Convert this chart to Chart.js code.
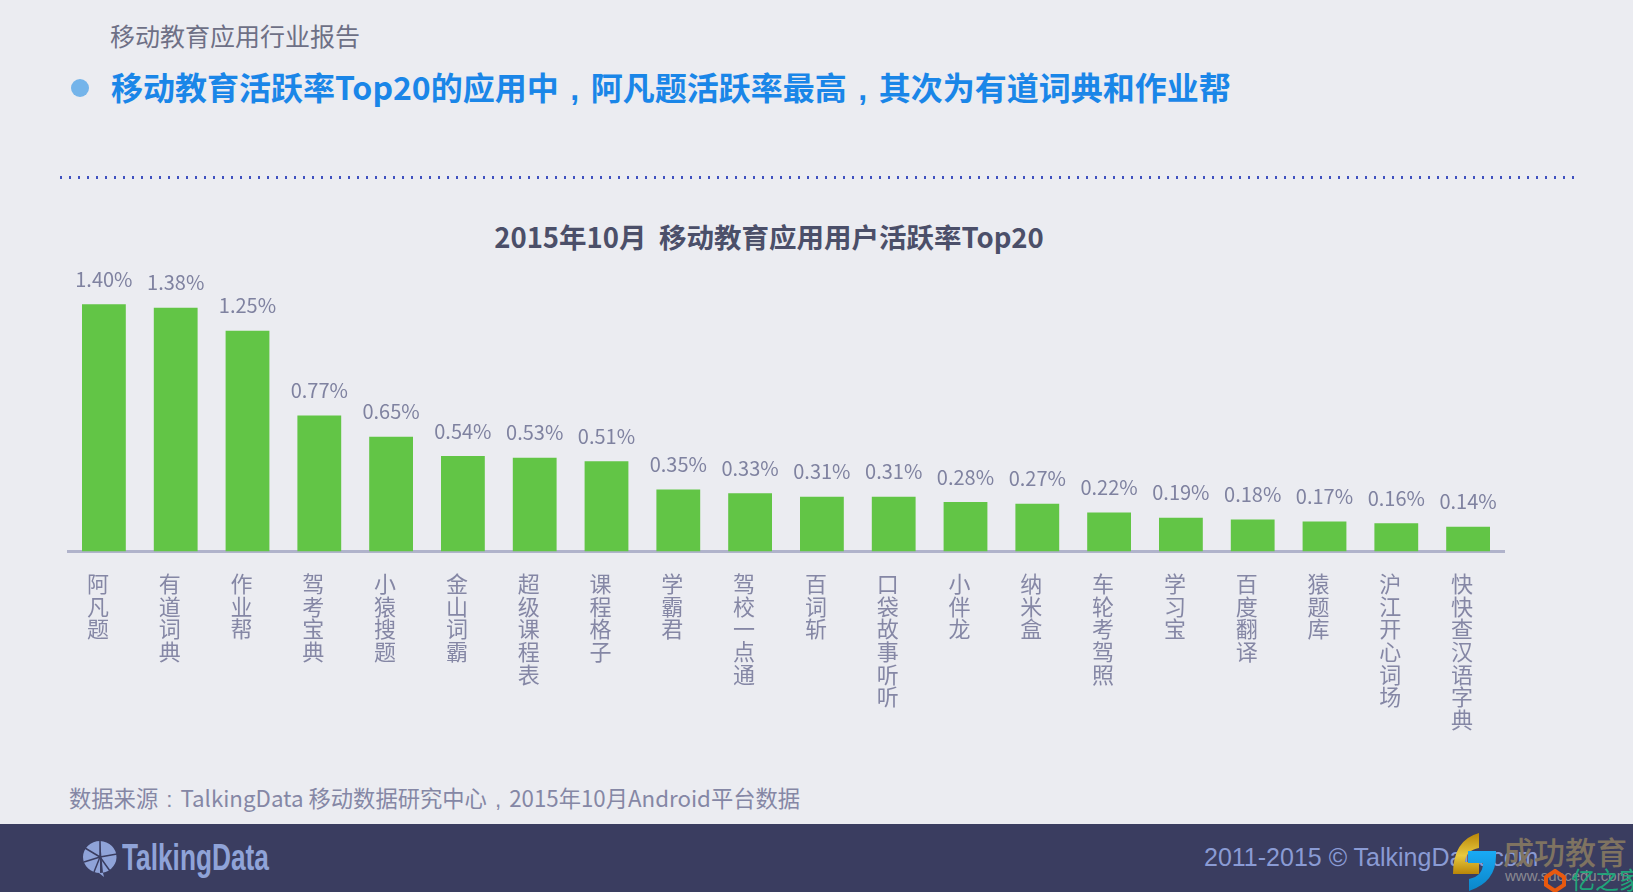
<!DOCTYPE html>
<html>
<head>
<meta charset="utf-8">
<script src="https://cdn.jsdelivr.net/npm/chart.js@4"></script>
<style>
  html, body { margin: 0; padding: 0; }
  body { width: 1633px; height: 892px; background: #ebecf1; position: relative; overflow: hidden;
         font-family: "Noto Sans CJK SC", sans-serif; }
  .abs { position: absolute; white-space: nowrap; }
  .punct { display: inline-block; width: 1em; text-align: center; font-family: "Liberation Sans", sans-serif; }
  #chartBox { position: absolute; left: 0; top: 269px; width: 1538px; height: 483px; }
  #footer { position: absolute; left: 0; top: 824px; width: 1633px; height: 68px; background: #3a3d60; }
</style>
</head>
<body>
<div class="abs" style="left:110px;top:17px;font-size:25px;line-height:36px;color:#6e7086;">移动教育应用行业报告</div>
<div class="abs" style="left:71px;top:79px;width:18px;height:18px;border-radius:50%;background:#74b4ea;"></div>
<div class="abs" style="left:111px;top:63px;font-size:32px;line-height:46px;font-weight:700;color:#1a86e8;">移动教育活跃率Top20的应用中<span class="punct">,</span>阿凡题活跃率最高<span class="punct">,</span>其次为有道词典和作业帮</div>
<div class="abs" style="left:60px;top:176px;width:1514px;height:3px;background:repeating-linear-gradient(90deg,#3f51c0 0 2px,transparent 2px 9px);"></div>

<div class="abs" style="left:369px;top:216px;width:800px;text-align:center;font-size:27.5px;line-height:40px;font-weight:700;color:#4b4f69;white-space:pre;">2015年10月  移动教育应用用户活跃率Top20</div>

<div id="chartBox"><canvas id="activeChart"></canvas></div>

<div class="abs" style="left:69px;top:780px;font-size:22.3px;line-height:34px;color:#8587a5;">数据来源<span class="punct">:</span>TalkingData 移动数据研究中心<span class="punct">,</span>2015年10月Android平台数据</div>

<div id="footer"></div>
<svg class="abs" style="left:82px;top:840px;" width="36" height="38" viewBox="0 0 36 38">
  <path d="M18 1a17 16 0 1 1 -1 32l5 4 -1 -4z M18 1a17 16 0 1 0 0 32z" fill="#8fa3d8"/>
  <path d="M18 17L18 1M18 17L3 8M18 17L2 22M18 17L12 32M18 17L28 31M18 17L35 14" stroke="#3a3d60" stroke-width="1.5" fill="none"/>
</svg>
<div class="abs" style="left:122px;top:834px;font-family:'Liberation Sans',sans-serif;font-weight:700;font-size:37px;line-height:48px;color:#8fa3d8;transform:scaleX(.71);transform-origin:left;">TalkingData</div>
<div class="abs" style="left:1204px;top:840px;font-family:'Liberation Sans',sans-serif;font-size:25px;line-height:34px;color:#8a9bd4;">2011-2015 © TalkingData.com</div>

<svg class="abs" style="left:1450px;top:832px;" width="56" height="60" viewBox="0 0 56 60">
  <defs>
    <linearGradient id="gold" x1="0" y1="0" x2="0" y2="1"><stop offset="0" stop-color="#b98608"/><stop offset=".55" stop-color="#e8c93e"/><stop offset="1" stop-color="#b98608"/></linearGradient>
    <linearGradient id="blue" x1="0" y1="0" x2="0" y2="1"><stop offset="0" stop-color="#19aaf5"/><stop offset="1" stop-color="#0b86c9"/></linearGradient>
  </defs>
  <path d="M29 1V16Q16 18 15 30H29V42H3Q3 8 29 1Z" fill="url(#gold)"/>
  <path d="M18 19H46V24Q46 50 19 59V47Q33 44 33 31H18Z" fill="url(#blue)"/>
</svg>
<div class="abs" style="left:1503px;top:829px;font-size:31px;line-height:44px;font-weight:500;color:#7f7361;">成功教育</div>
<div class="abs" style="left:1505px;top:866px;font-family:'Liberation Sans',sans-serif;font-size:15px;line-height:20px;color:#8a8a92;">www.succedu.com</div>
<svg class="abs" style="left:1544px;top:869px;" width="22" height="23" viewBox="0 0 22 23">
  <path d="M11 2L20 8V16L11 22L2 16V8Z" fill="none" stroke="#e8590f" stroke-width="4"/>
</svg>
<div class="abs" style="left:1571px;top:862px;font-size:24px;line-height:34px;color:#1fa57a;">亿之家</div>

<script>
const appNames = ["阿凡题", "有道词典", "作业帮", "驾考宝典", "小猿搜题", "金山词霸", "超级课程表", "课程格子", "学霸君", "驾校一点通",
  "百词斩", "口袋故事听听", "小伴龙", "纳米盒", "车轮考驾照", "学习宝", "百度翻译", "猿题库", "沪江开心词场", "快快查汉语字典"];
const activeRate = [1.40, 1.38, 1.25, 0.77, 0.65, 0.54, 0.53, 0.51, 0.35, 0.33,
  0.31, 0.31, 0.28, 0.27, 0.22, 0.19, 0.18, 0.17, 0.16, 0.14];

const cjk = '"Noto Sans CJK SC", sans-serif';

// value labels above the bars
const valueLabels = {
  id: "valueLabels",
  afterDatasetsDraw(chart) {
    const ctx = chart.ctx;
    const meta = chart.getDatasetMeta(0);
    ctx.save();
    ctx.font = "400 20px " + cjk;
    ctx.fillStyle = "#7f82a0";
    ctx.textAlign = "center";
    ctx.textBaseline = "middle";
    meta.data.forEach((bar, i) => {
      ctx.fillText(activeRate[i].toFixed(2) + "%", bar.x, bar.y - 25);
    });
    ctx.restore();
  },
};

new Chart(document.getElementById("activeChart"), {
  type: "bar",
  data: {
    labels: appNames,
    datasets: [{
      data: activeRate,
      backgroundColor: "#62c546",
      categoryPercentage: 1,
      barPercentage: 0.61,
    }],
  },
  options: {
    responsive: true,
    maintainAspectRatio: false,
    animation: false,
    devicePixelRatio: 1,
    layout: { padding: { left: 68, right: 34, top: 0, bottom: 0 } },
    plugins: {
      legend: { display: false },
      tooltip: { enabled: false },
    },
    scales: {
      x: {
        grid: { display: false, drawTicks: false },
        border: { color: "#b0b3cb", width: 3 },
        ticks: {
          // stack the characters vertically, one per line
          callback(value) { return this.getLabelForValue(value).split(""); },
          autoSkip: false,
          maxRotation: 0,
          minRotation: 0,
          padding: 21,
          labelOffset: -6,
          color: "#8587a5",
          font: { family: cjk, size: 22, lineHeight: 1.03 },
        },
      },
      y: { display: false, min: 0, max: 1.6 },
    },
  },
  plugins: [valueLabels],
});
</script>
</body>
</html>
